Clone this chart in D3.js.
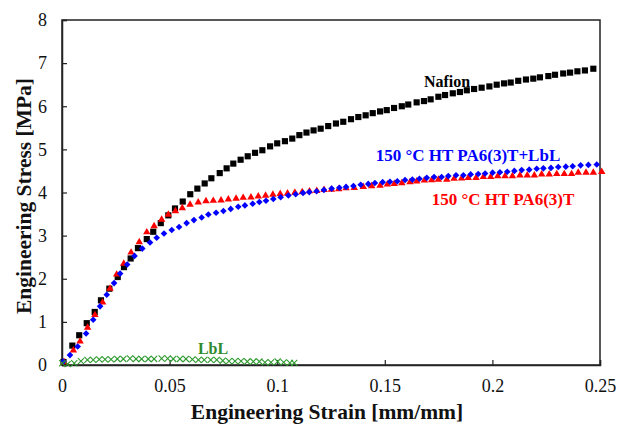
<!DOCTYPE html>
<html><head><meta charset="utf-8">
<script src="https://cdn.jsdelivr.net/npm/d3@7"></script>
<style>body{margin:0;background:#fff}svg{display:block}text{font-family:"Liberation Serif","Times New Roman",serif}</style>
</head><body><svg id="c" width="618" height="425"></svg>
<script>
const xTicks = [0, 0.05, 0.1, 0.15, 0.2, 0.25];
const xTickLabels = ["0", "0.05", "0.1", "0.15", "0.2", "0.25"];
const yTicks = [0,1,2,3,4,5,6,7,8];

const nafionStrain = [0.0007,0.0048,0.0080,0.0115,0.0152,0.0181,0.0220,0.0259,0.0288,0.0319,0.0353,0.0394,0.0424,0.0459,0.0494,0.0525,0.0561,0.0596,0.0629,0.0663,0.0694,0.0733,0.0765,0.0796,0.0830,0.0863,0.0897,0.0931,0.0967,0.1000,0.1036,0.1070,0.1103,0.1136,0.1169,0.1202,0.1237,0.1273,0.1307,0.1343,0.1377,0.1411,0.1444,0.1478,0.1509,0.1543,0.1579,0.1609,0.1648,0.1682,0.1713,0.1749,0.1780,0.1816,0.1849,0.1881,0.1915,0.1950,0.1986,0.2020,0.2054,0.2085,0.2120,0.2156,0.2190,0.2221,0.2260,0.2291,0.2329,0.2361,0.2395,0.2430,0.2469];
const nafionStress = [0.07,0.45,0.69,0.97,1.23,1.50,1.77,2.04,2.27,2.47,2.71,2.92,3.09,3.29,3.47,3.63,3.79,3.96,4.09,4.21,4.33,4.45,4.56,4.67,4.76,4.84,4.92,4.98,5.07,5.14,5.19,5.25,5.33,5.39,5.44,5.48,5.54,5.60,5.64,5.70,5.75,5.79,5.84,5.88,5.91,5.96,6.00,6.04,6.09,6.12,6.16,6.22,6.26,6.30,6.33,6.37,6.40,6.43,6.46,6.50,6.53,6.55,6.59,6.62,6.64,6.67,6.70,6.73,6.76,6.78,6.81,6.83,6.87];

const htStrain = [0.0010,0.0053,0.0084,0.0119,0.0153,0.0189,0.0223,0.0254,0.0287,0.0321,0.0359,0.0394,0.0428,0.0463,0.0494,0.0527,0.0559,0.0595,0.0633,0.0669,0.0703,0.0739,0.0773,0.0809,0.0842,0.0878,0.0912,0.0946,0.0980,0.1014,0.1048,0.1082,0.1116,0.1150,0.1184,0.1218,0.1252,0.1286,0.1320,0.1358,0.1400,0.1439,0.1478,0.1512,0.1544,0.1579,0.1617,0.1648,0.1684,0.1718,0.1749,0.1788,0.1822,0.1857,0.1888,0.1924,0.1958,0.1992,0.2025,0.2059,0.2093,0.2128,0.2162,0.2195,0.2229,0.2264,0.2299,0.2334,0.2368,0.2399,0.2435,0.2469,0.2508];
const htStress = [0.07,0.34,0.55,0.87,1.16,1.45,1.77,2.10,2.35,2.61,2.85,3.08,3.22,3.37,3.49,3.57,3.64,3.72,3.77,3.80,3.81,3.82,3.84,3.86,3.88,3.89,3.91,3.93,3.95,3.97,3.98,4.00,4.01,4.03,4.04,4.06,4.07,4.08,4.10,4.11,4.13,4.15,4.16,4.19,4.20,4.22,4.24,4.26,4.28,4.29,4.30,4.30,4.32,4.33,4.34,4.34,4.36,4.36,4.38,4.38,4.38,4.40,4.40,4.40,4.42,4.42,4.43,4.43,4.43,4.46,4.46,4.46,4.48];

const htLblStrain = [0.0006,0.0037,0.0073,0.0112,0.0145,0.0177,0.0208,0.0242,0.0270,0.0303,0.0337,0.0373,0.0409,0.0440,0.0474,0.0510,0.0544,0.0579,0.0613,0.0649,0.0680,0.0716,0.0750,0.0784,0.0819,0.0850,0.0886,0.0917,0.0948,0.0982,0.1016,0.1052,0.1086,0.1120,0.1149,0.1183,0.1217,0.1253,0.1289,0.1320,0.1354,0.1388,0.1423,0.1454,0.1490,0.1524,0.1558,0.1594,0.1628,0.1661,0.1695,0.1729,0.1764,0.1795,0.1831,0.1865,0.1899,0.1934,0.1966,0.2001,0.2035,0.2069,0.2102,0.2136,0.2171,0.2206,0.2237,0.2272,0.2306,0.2341,0.2373,0.2410,0.2446,0.2485];
const htLblStress = [0.08,0.23,0.43,0.73,1.05,1.36,1.63,1.90,2.12,2.33,2.53,2.70,2.84,2.95,3.05,3.13,3.20,3.29,3.36,3.42,3.49,3.53,3.57,3.62,3.67,3.70,3.74,3.78,3.81,3.85,3.89,3.93,3.96,3.99,4.01,4.03,4.06,4.09,4.11,4.13,4.15,4.18,4.20,4.22,4.24,4.25,4.26,4.29,4.30,4.32,4.34,4.36,4.36,4.38,4.40,4.40,4.42,4.43,4.44,4.46,4.47,4.48,4.50,4.52,4.53,4.55,4.56,4.57,4.59,4.60,4.61,4.63,4.64,4.65];

const lblStrain = [0.0001,0.0026,0.0057,0.0088,0.0118,0.0145,0.0173,0.0200,0.0228,0.0257,0.0285,0.0316,0.0344,0.0370,0.0401,0.0428,0.0463,0.0491,0.0517,0.0548,0.0576,0.0606,0.0634,0.0661,0.0691,0.0719,0.0747,0.0776,0.0804,0.0832,0.0861,0.0889,0.0917,0.0943,0.0971,0.1002,0.1030,0.1059,0.1079];
const lblStress = [0.04,0.02,0.04,0.09,0.12,0.12,0.13,0.13,0.13,0.14,0.14,0.15,0.14,0.14,0.14,0.14,0.15,0.15,0.14,0.14,0.14,0.13,0.12,0.12,0.12,0.12,0.10,0.09,0.09,0.09,0.08,0.08,0.08,0.06,0.06,0.08,0.06,0.05,0.05];

const svg = d3.select("#c");
const L = 62, R = 600, T = 20, B = 365;
const x = d3.scaleLinear().domain([0, 0.25]).range([L, R]);
const y = d3.scaleLinear().domain([0, 8]).range([B, T]);

svg.append("rect").attr("x", L).attr("y", T).attr("width", R - L).attr("height", B - T)
  .attr("fill", "none").attr("stroke", "#222").attr("stroke-width", 1.5);

const xAxis = d3.axisBottom(x).tickValues(xTicks).tickSize(-5).tickPadding(14)
  .tickFormat((d, i) => xTickLabels[i]);
const gx = svg.append("g").attr("transform", `translate(0,${B})`).call(xAxis);
gx.select(".domain").attr("stroke", "#222").attr("stroke-width", 1.5);
gx.selectAll(".tick line").attr("stroke", "#222").attr("stroke-width", 1.2);
gx.selectAll("text").attr("font-size", 18).attr("fill", "#111").attr("font-family", "Liberation Serif");

const yAxis = d3.axisLeft(y).tickValues(yTicks).tickSize(-5).tickPadding(15).tickFormat(d3.format("d"));
const gy = svg.append("g").attr("transform", `translate(${L},0)`).call(yAxis);
gy.select(".domain").attr("stroke", "#222").attr("stroke-width", 1.5);
gy.selectAll(".tick line").attr("stroke", "#222").attr("stroke-width", 1.2);
gy.selectAll("text").attr("font-size", 18).attr("fill", "#111").attr("font-family", "Liberation Serif");

function series(sx, sy, sym, size, color, opts) {
  const pts = sx.map((v, i) => [v, sy[i]]);
  const g = svg.append("g");
  g.selectAll("path").data(pts).enter().append("path")
    .attr("transform", d => `translate(${x(d[0])},${y(d[1])})`)
    .attr("d", d3.symbol().type(sym).size(size))
    .attr("fill", opts && opts.stroke ? "none" : color)
    .attr("stroke", opts && opts.stroke ? color : "none")
    .attr("stroke-width", opts && opts.stroke ? 1.1 : 0);
}
series(nafionStrain, nafionStress, d3.symbolSquare, 38, "#000");
series(htStrain, htStress, d3.symbolTriangle, 24, "#ff0000");
series(htLblStrain, htLblStress, d3.symbolDiamond2, 28, "#0000ff");
series(lblStrain, lblStress, d3.symbolX, 26, "#2e9a2e", {stroke: true});

const lab = (t, xx, yy, c, fs) => svg.append("text").attr("x", xx).attr("y", yy).attr("fill", c)
  .attr("font-size", fs).attr("font-weight", "bold").attr("text-anchor", "middle").text(t);
lab("Nafion", 447, 87, "#000", 16);
lab("150 °C HT PA6(3)T+LbL", 468, 161, "#0000ff", 17);
lab("150 °C HT PA6(3)T", 503, 205, "#ff0000", 17);
lab("LbL", 213, 354, "#2e8b2e", 16);

svg.append("text").attr("x", 327).attr("y", 419).attr("text-anchor", "middle")
  .attr("font-size", 21.5).attr("font-weight", "bold").attr("fill", "#111").text("Engineering Strain [mm/mm]");
svg.append("text").attr("transform", "translate(31,196) rotate(-90)").attr("text-anchor", "middle")
  .attr("font-size", 21.5).attr("font-weight", "bold").attr("fill", "#111").text("Engineering Stress [MPa]");
</script></body></html>
